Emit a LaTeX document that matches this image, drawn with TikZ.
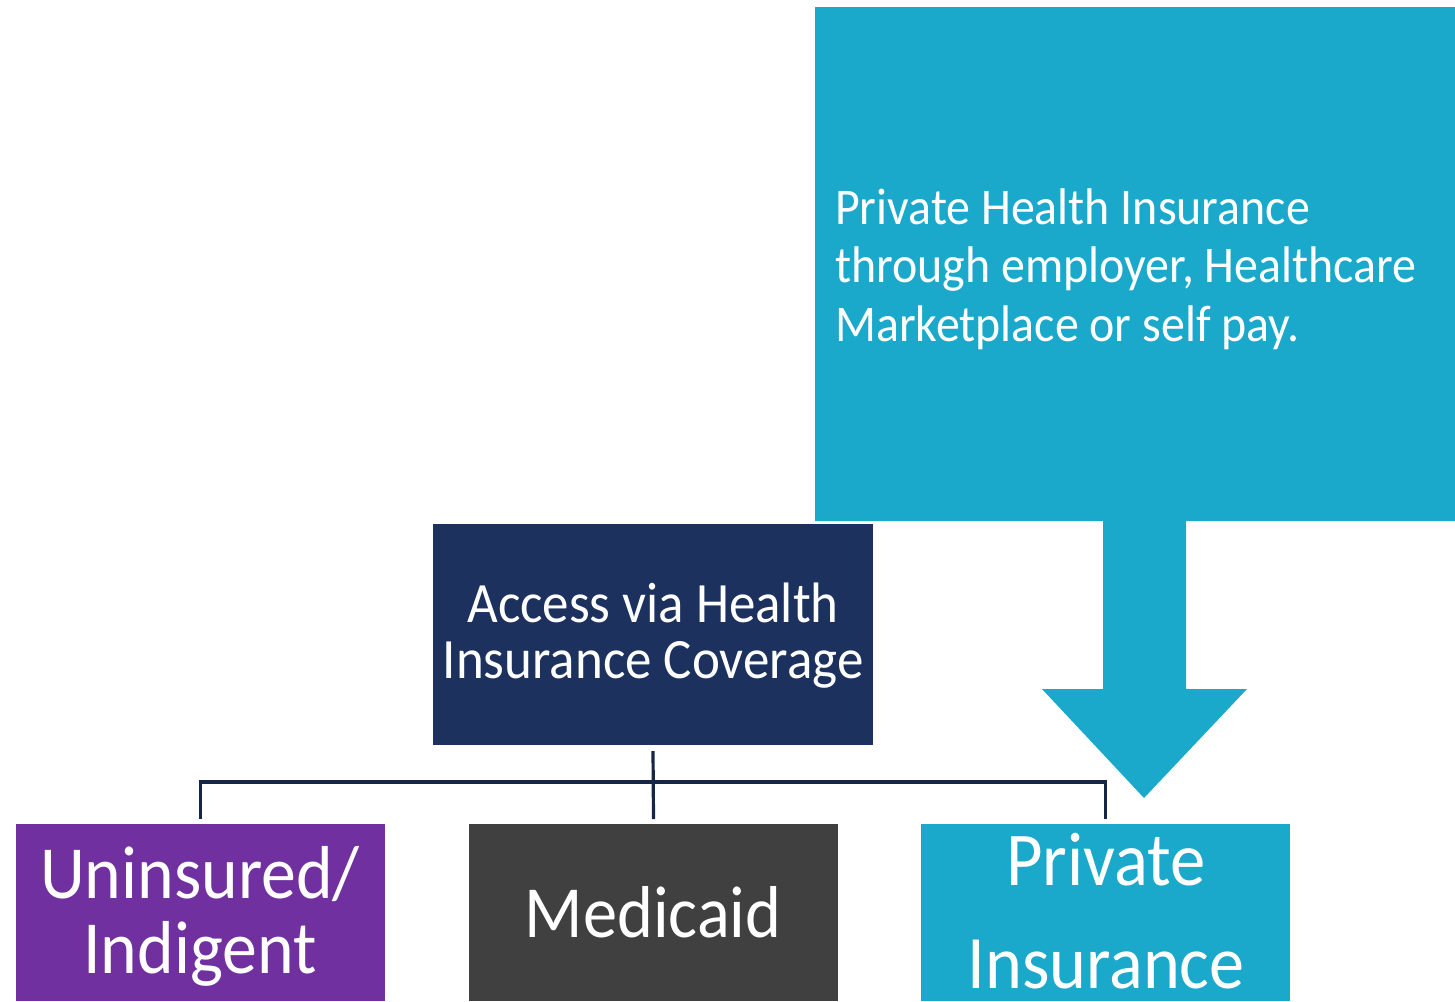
\documentclass[tikz,border=0pt]{standalone}
\usepackage{fontspec}
\setmainfont{Carlito}[FakeStretch=0.93]
\definecolor{cyanbox}{RGB}{27,169,203}
\definecolor{navybox}{RGB}{28,49,94}
\definecolor{purplebox}{RGB}{112,48,160}
\definecolor{graybox}{RGB}{64,64,64}
\definecolor{connclr}{RGB}{22,38,72}
\begin{document}
\begin{tikzpicture}[x=1pt,y=-1pt,
  box/.style={draw=none,inner sep=0pt,outer sep=0pt,anchor=north west},
  conn/.style={draw=connclr,line width=3.2pt},
  wtext/.style={text=white,inner sep=0pt,anchor=base},
  ctext/.style={text=white,inner sep=0pt,anchor=base west,font=\fontsize{51.5}{58}\selectfont},
]
\useasboundingbox (0,0) rectangle (1455,1001);
% callout with arrow
\fill[cyanbox] (815,7) -- (1455,7) -- (1455,521) -- (1186,521) -- (1186,689)
  -- (1247,689) -- (1144,798) -- (1042,689) -- (1103,689) -- (1103,521)
  -- (815,521) -- cycle;
\node[ctext] (c1) at (835,224) {Private Health Insurance};
\node[ctext] (c2) at (835,282) {through employer, Healthcare};
\node[ctext] (c3) at (835,341) {Marketplace or self pay.};
% boxes
\node[box,fill=navybox,minimum width=440pt,minimum height=221pt] (acc) at (433,524) {};
\node[box,fill=purplebox,minimum width=369pt,minimum height=177pt] (unins) at (16,824) {};
\node[box,fill=graybox,minimum width=369pt,minimum height=177pt] (med) at (469,824) {};
\node[box,fill=cyanbox,minimum width=369pt,minimum height=177pt] (priv) at (921,824) {};
% texts
\node[wtext,font=\fontsize{57}{60}\selectfont] (a1) at (653,622) {Access via Health};
\node[wtext,font=\fontsize{57}{60}\selectfont] (a2) at (653,678) {Insurance Coverage};
\node[wtext,font=\fontsize{75}{80}\selectfont] (u1) at (200,898) {Uninsured/};
\node[wtext,font=\fontsize{75}{80}\selectfont] (u2) at (200,973) {Indigent};
\node[wtext,font=\fontsize{73.5}{80}\selectfont] (m1) at (653,937) {Medicaid};
\node[wtext,font=\fontsize{76}{80}\selectfont] (p1) at (1106,885) {Private};
\node[wtext,font=\fontsize{75.5}{80}\selectfont] (p2) at (1106,988) {Insurance};
% connectors
\draw[conn] ([yshift=-6pt]acc.south) -- ([yshift=5pt]med.north);
\draw[conn] ([yshift=5pt]unins.north) |- ([yshift=-37pt]acc.south) -| ([yshift=5pt]priv.north);
\end{tikzpicture}
\end{document}
